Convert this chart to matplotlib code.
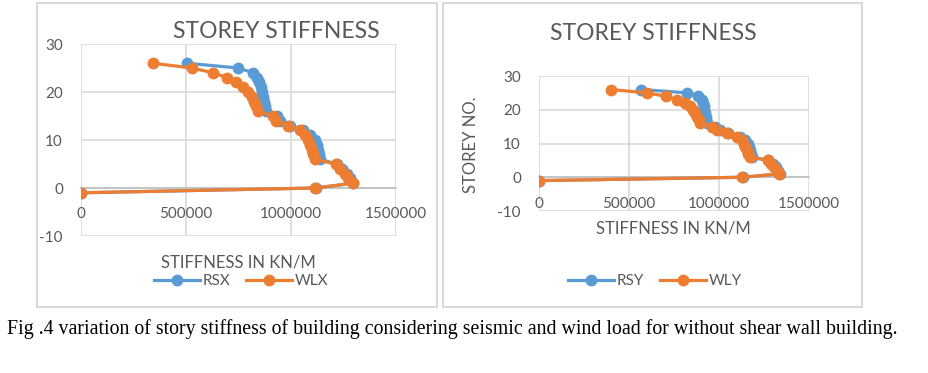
import matplotlib
matplotlib.use("Agg")
from matplotlib import pyplot as plt
from matplotlib.patches import Rectangle
from matplotlib.lines import Line2D

plt.rcParams["axes.unicode_minus"] = False

storey = [26, 25, 24, 23, 22, 21, 20, 19, 18, 17, 16, 15, 14, 13,
          12, 11, 10, 9, 8, 7, 6, 5, 4, 3, 2, 1, 0, -1]

rsx = [503000, 749000, 820000, 840000, 848000, 855000, 860000, 866000, 872000, 877000,
       881000, 932000, 948000, 995000, 1059000, 1090000, 1114000, 1122000, 1127000,
       1132000, 1138000, 1217000, 1245000, 1265000, 1282000, 1297000, 1119000, 0]
wlx = [341000, 527000, 630000, 694000, 738000, 773000, 797000, 813000, 825000, 835000,
       845000, 912000, 930000, 987000, 1045000, 1067000, 1082000, 1090000, 1098000,
       1103000, 1112000, 1212000, 1233000, 1257000, 1273000, 1297000, 1114000, 0]
rsy = [567000, 824000, 885000, 904000, 910000, 915000, 919000, 923000, 927000, 930000,
       933000, 978000, 1006000, 1052000, 1117000, 1144000, 1161000, 1167000, 1172000,
       1177000, 1182000, 1274000, 1298000, 1315000, 1328000, 1339000, 1135000, 0]
wly = [400000, 598000, 706000, 765000, 811000, 839000, 856000, 868000, 878000, 887000,
       894000, 959000, 987000, 1043000, 1098000, 1126000, 1138000, 1147000, 1155000,
       1162000, 1170000, 1270000, 1290000, 1308000, 1322000, 1335000, 1130000, 0]

xticks = [0, 500000, 1000000, 1500000]
yticks = [-10, 0, 10, 20, 30]

BLUE = "#5B9BD5"
ORANGE = "#ED7D31"
TXT = "#595959"
GRID = "#D9D9D9"
FONT = "Lato"

W, H = 929, 373
fig = plt.figure(figsize=(W / 100, H / 100), dpi=100)


def px_axes(x0, y0, x1, y1):
    # pixel box (top-left origin) -> figure axes
    return fig.add_axes([x0 / W, 1 - y1 / H, (x1 - x0) / W, (y1 - y0) / H])


def fig_text(x, y, s, **kw):
    fig.text(x / W, 1 - y / H, s, **kw)


def chart(ax, xs1, xs2):
    ax.plot(xs1, storey, color=BLUE, lw=2.3, marker="o", ms=7.5, zorder=3)
    ax.plot(xs2, storey, color=ORANGE, lw=2.3, marker="o", ms=7.5, zorder=4)
    ax.set_xlim(0, 1500000)
    ax.set_ylim(-10, 30)
    ax.set_xticks(xticks)
    ax.set_yticks(yticks)
    ax.set_xticklabels([str(t) for t in xticks])
    ax.grid(True, color=GRID, lw=1.2)
    ax.set_axisbelow(True)
    for s in ["top", "right", "left"]:
        ax.spines[s].set_visible(False)
    ax.spines["bottom"].set_position(("data", 0))
    ax.spines["bottom"].set_color("#BFBFBF")
    ax.spines["bottom"].set_linewidth(1.2)
    ax.tick_params(length=0, colors=TXT, labelsize=11)
    ax.tick_params(axis="x", pad=14)
    ax.tick_params(axis="y", pad=13)
    for lab in ax.get_xticklabels() + ax.get_yticklabels():
        lab.set_fontfamily(FONT)


ax1 = px_axes(81, 44, 396, 236)
chart(ax1, rsx, wlx)
ax2 = px_axes(539, 76, 809, 211)
chart(ax2, rsy, wly)

# chart frames
for x0, x1 in [(37, 437), (443, 862)]:
    fig.patches.append(Rectangle((x0 / W, 1 - 307 / H), (x1 - x0) / W, 304 / H,
                                 transform=fig.transFigure, fill=False,
                                 edgecolor=GRID, lw=1.5))

fig_text(276, 32, "STOREY STIFFNESS", ha="center", va="center",
         fontsize=16.5, color=TXT, family=FONT)
fig_text(653, 34, "STOREY STIFFNESS", ha="center", va="center",
         fontsize=16.5, color=TXT, family=FONT)
fig_text(238, 263, "STIFFNESS IN KN/M", ha="center", va="center",
         fontsize=12, color=TXT, family=FONT)
fig_text(673, 228, "STIFFNESS IN KN/M", ha="center", va="center",
         fontsize=12, color=TXT, family=FONT)
fig_text(471.5, 145, "STOREY NO.", ha="center", va="center", rotation=90,
         fontsize=12, color=TXT, family=FONT)

handles = [Line2D([], [], color=BLUE, lw=2.3, marker="o", ms=7.5),
           Line2D([], [], color=ORANGE, lw=2.3, marker="o", ms=7.5)]
for cx, labels in [(241, ["RSX", "WLX"]), (655, ["RSY", "WLY"])]:
    leg = fig.legend(handles, labels, loc="center", ncol=2,
                     bbox_to_anchor=(cx / W, 1 - 281 / H), frameon=False,
                     handlelength=3.0, handletextpad=0.2, columnspacing=1.0,
                     prop={"family": FONT, "size": 11})
    for t in leg.get_texts():
        t.set_color(TXT)

fig_text(7, 334, "Fig .4 variation of story stiffness of building considering seismic "
         "and wind load for without shear wall building.",
         ha="left", va="baseline", fontsize=14.3, color="black",
         family="Liberation Serif")

fig.savefig("out.png", dpi=100)
